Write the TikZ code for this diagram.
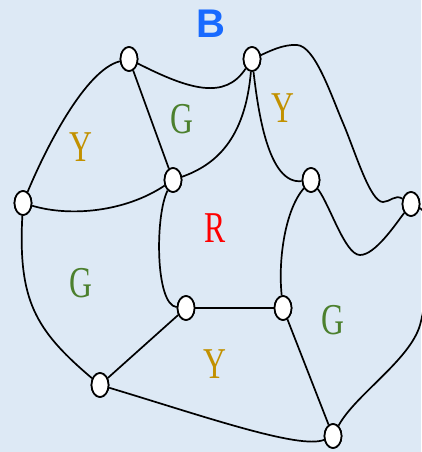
\documentclass[tikz,border=0pt]{standalone}
\usepackage{fontspec}
\usepackage{graphicx}
\setmainfont{Liberation Serif}
\newfontfamily\labsans{Liberation Sans}
\usetikzlibrary{shapes.geometric}
\definecolor{bgc}{RGB}{221,233,245}
\definecolor{yc}{RGB}{194,145,0}
\definecolor{gc}{RGB}{76,128,46}
\definecolor{rc}{RGB}{255,0,0}
\definecolor{bc}{RGB}{24,106,255}
\tikzset{
  vert/.style={ellipse, draw=black, fill=white, line width=1.7pt, minimum width=17pt, minimum height=24pt, inner sep=0pt},
  edge/.style={line width=1.7pt, black},
  lab/.style={inner sep=0pt, font=\fontsize{44}{44}\selectfont},
}
\newcommand{\narrow}[1]{\scalebox{0.72}[1]{#1}}
\begin{document}
\begin{tikzpicture}[x=1pt,y=-1pt]
\fill[bgc] (0,0) rectangle (421,452);
\useasboundingbox (0,0) rectangle (421,452);
% vertices
\node[vert] (A) at (129,59) {};
\node[vert] (Bn) at (252,59) {};
\node[vert] (C) at (173,180) {};
\node[vert] (D) at (23,203) {};
\node[vert] (E) at (311,180) {};
\node[vert] (F) at (411,204) {};
\node[vert] (Gn) at (186,308) {};
\node[vert] (H) at (283,308) {};
\node[vert] (I) at (100,385) {};
\node[vert] (J) at (333,436) {};
% edges
\begin{scope}[edge]
\draw (A) .. controls (190,90) and (225,100) .. (Bn);
\draw (A) -- (C);
\draw (A) .. controls (85,70) and (45,150) .. (D);
\draw (D) .. controls (70,217) and (125,212) .. (C);
\draw (C) .. controls (215,165) and (245,140) .. (Bn);
\draw (Bn) .. controls (258,110) and (268,185) .. (E);
\draw (Bn) .. controls (268,52) and (283,44) .. (297,45)
          .. controls (315,46) and (331,95) .. (343,123)
          .. controls (355,151) and (370,202) .. (383,202)
          .. controls (390,202) and (395,194) .. (F);
\draw (E) .. controls (330,205) and (345,255) .. (360,255)
          .. controls (375,255) and (395,225) .. (F);
\draw (E) .. controls (285,210) and (278,260) .. (H);
\draw (C) .. controls (155,215) and (155,305) .. (Gn);
\draw (Gn) -- (H);
\draw (Gn) -- (I);
\draw (H) -- (J);
\draw (D) .. controls (18,300) and (35,330) .. (I);
\draw (I) .. controls (200,415) and (300,450) .. (J);
\draw (J) .. controls (355,395) and (410,360) .. (420,325)
          .. controls (428,297) and (435,215) .. (F);
\end{scope}
% redraw vertices on top
\foreach \v in {A,Bn,C,D,E,F,Gn,H,I,J}{
  \node[vert] at (\v.center) {};
}
% labels
\node[lab, text=bc, font=\labsans\bfseries\fontsize{40}{40}\selectfont] (lB) at (211,24) {B};
\node[lab, text=gc] (lG1) at (182,119) {\narrow{G}};
\node[lab, text=yc] (lY1) at (81,147) {\narrow{Y}};
\node[lab, text=yc] (lY2) at (283,108) {\narrow{Y}};
\node[lab, text=rc] (lR) at (215,228) {\narrow{R}};
\node[lab, text=gc] (lG2) at (81,283) {\narrow{G}};
\node[lab, text=gc] (lG3) at (333,320) {\narrow{G}};
\node[lab, text=yc] (lY3) at (215,364) {\narrow{Y}};
\end{tikzpicture}
\end{document}
